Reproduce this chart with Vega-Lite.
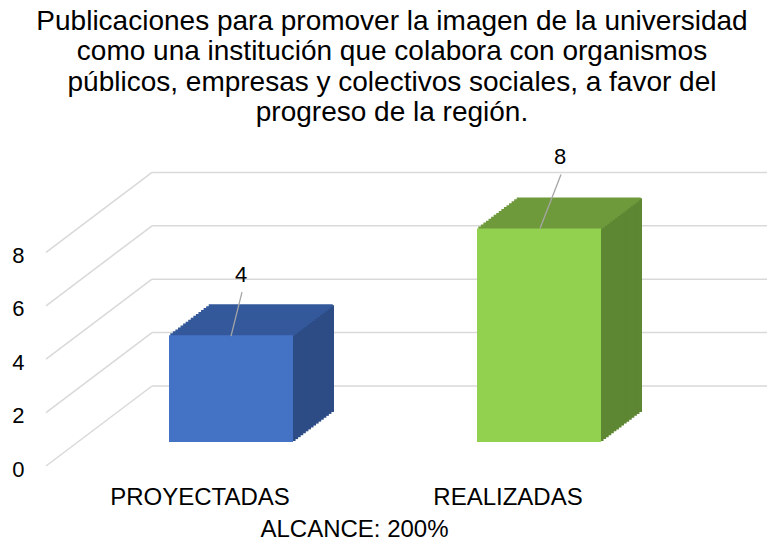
{
  "$schema": "https://vega.github.io/schema/vega-lite/v6.json",
  "autosize": "none",
  "width": 616,
  "height": 213.6,
  "padding": {"left": 46, "top": 252.4, "right": 105, "bottom": 78},
  "background": "#ffffff",
  "config": {"font": "Liberation Sans", "view": {"stroke": null}},
  "title": {
    "text": ["Publicaciones para promover la imagen de la universidad", "como una institución que colabora con organismos", "públicos, empresas y colectivos sociales, a favor del", "progreso de la región."],
    "fontSize": 28,
    "fontWeight": "normal",
    "color": "#000000",
    "lineHeight": 30.5,
    "anchor": "middle",
    "frame": "group",
    "dx": 38,
    "offset": 19
  },
  "datasets": {
    "barras": [
      {"categoria": "PROYECTADAS", "valor": 4},
      {"categoria": "REALIZADAS", "valor": 8}
    ],
    "rejilla": [
      {"valor": 0}, {"valor": 2}, {"valor": 4}, {"valor": 6}, {"valor": 8}
    ]
  },
  "data": {"name": "barras"},
  "encoding": {
    "x": {
      "field": "categoria",
      "type": "nominal",
      "scale": {"paddingInner": 0, "paddingOuter": 0},
      "axis": {
        "title": "ALCANCE: 200%",
        "titleFontSize": 24,
        "titleFontWeight": "normal",
        "titleColor": "#000000",
        "titlePadding": 8,
        "labelFontSize": 24,
        "labelColor": "#000000",
        "labelAngle": 0,
        "labelPadding": 19,
        "ticks": false,
        "tickSize": 0,
        "domain": false,
        "grid": false
      }
    },
    "y": {
      "field": "valor",
      "type": "quantitative",
      "scale": {"domain": [0, 8], "nice": false},
      "axis": {
        "title": null,
        "values": [0, 2, 4, 6, 8],
        "labelFontSize": 22,
        "labelColor": "#000000",
        "labelPadding": 22,
        "labelOffset": 3,
        "ticks": false,
        "tickSize": 0,
        "domain": false,
        "grid": false
      }
    }
  },
  "layer": [
    {
      "data": {"name": "rejilla"},
      "mark": {"type": "rule", "color": "#d9d9d9", "strokeWidth": 1.5, "x2Offset": 106, "y2Offset": -80},
      "encoding": {
        "x": {"datum": "PROYECTADAS", "type": "nominal", "bandPosition": 0},
        "x2": {"datum": "PROYECTADAS", "bandPosition": 0},
        "y2": {"field": "valor"}
      }
    },
    {
      "data": {"name": "rejilla"},
      "mark": {"type": "rule", "color": "#d9d9d9", "strokeWidth": 1.5, "xOffset": 106, "x2Offset": 106, "yOffset": -80},
      "encoding": {
        "x": {"datum": "PROYECTADAS", "type": "nominal", "bandPosition": 0},
        "x2": {"datum": "REALIZADAS", "bandPosition": 1}
      }
    },
    {
      "encoding": {
        "color": {"condition": {"test": "datum.categoria === 'PROYECTADAS'", "value": "#2d4c85"}, "value": "#5e8733"}
      },
      "layer": [
        {"mark": {"type": "bar", "width": 4.06, "xOffset": 93.53, "yOffset": -24.97}},
        {"mark": {"type": "bar", "width": 4.06, "xOffset": 96.09, "yOffset": -26.91}},
        {"mark": {"type": "bar", "width": 4.06, "xOffset": 98.66, "yOffset": -28.84}},
        {"mark": {"type": "bar", "width": 4.06, "xOffset": 101.22, "yOffset": -30.78}},
        {"mark": {"type": "bar", "width": 4.06, "xOffset": 103.78, "yOffset": -32.72}},
        {"mark": {"type": "bar", "width": 4.06, "xOffset": 106.34, "yOffset": -34.66}},
        {"mark": {"type": "bar", "width": 4.06, "xOffset": 108.91, "yOffset": -36.59}},
        {"mark": {"type": "bar", "width": 4.06, "xOffset": 111.47, "yOffset": -38.53}},
        {"mark": {"type": "bar", "width": 4.06, "xOffset": 114.03, "yOffset": -40.47}},
        {"mark": {"type": "bar", "width": 4.06, "xOffset": 116.59, "yOffset": -42.41}},
        {"mark": {"type": "bar", "width": 4.06, "xOffset": 119.16, "yOffset": -44.34}},
        {"mark": {"type": "bar", "width": 4.06, "xOffset": 121.72, "yOffset": -46.28}},
        {"mark": {"type": "bar", "width": 4.06, "xOffset": 124.28, "yOffset": -48.22}},
        {"mark": {"type": "bar", "width": 4.06, "xOffset": 126.84, "yOffset": -50.16}},
        {"mark": {"type": "bar", "width": 4.06, "xOffset": 129.41, "yOffset": -52.09}},
        {"mark": {"type": "bar", "width": 4.06, "xOffset": 131.97, "yOffset": -54.03}}
      ]
    },
    {
      "encoding": {
        "y2": {"field": "valor"},
        "color": {"condition": {"test": "datum.categoria === 'PROYECTADAS'", "value": "#34599b"}, "value": "#6f9a3c"}
      },
      "layer": [
        {"mark": {"type": "bar", "width": 124, "xOffset": 32.28, "yOffset": -22.8, "y2Offset": -25.94}},
        {"mark": {"type": "bar", "width": 124, "xOffset": 34.84, "yOffset": -24.74, "y2Offset": -27.88}},
        {"mark": {"type": "bar", "width": 124, "xOffset": 37.41, "yOffset": -26.68, "y2Offset": -29.81}},
        {"mark": {"type": "bar", "width": 124, "xOffset": 39.97, "yOffset": -28.61, "y2Offset": -31.75}},
        {"mark": {"type": "bar", "width": 124, "xOffset": 42.53, "yOffset": -30.55, "y2Offset": -33.69}},
        {"mark": {"type": "bar", "width": 124, "xOffset": 45.09, "yOffset": -32.49, "y2Offset": -35.63}},
        {"mark": {"type": "bar", "width": 124, "xOffset": 47.66, "yOffset": -34.43, "y2Offset": -37.56}},
        {"mark": {"type": "bar", "width": 124, "xOffset": 50.22, "yOffset": -36.36, "y2Offset": -39.5}},
        {"mark": {"type": "bar", "width": 124, "xOffset": 52.78, "yOffset": -38.3, "y2Offset": -41.44}},
        {"mark": {"type": "bar", "width": 124, "xOffset": 55.34, "yOffset": -40.24, "y2Offset": -43.38}},
        {"mark": {"type": "bar", "width": 124, "xOffset": 57.91, "yOffset": -42.18, "y2Offset": -45.31}},
        {"mark": {"type": "bar", "width": 124, "xOffset": 60.47, "yOffset": -44.11, "y2Offset": -47.25}},
        {"mark": {"type": "bar", "width": 124, "xOffset": 63.03, "yOffset": -46.05, "y2Offset": -49.19}},
        {"mark": {"type": "bar", "width": 124, "xOffset": 65.59, "yOffset": -47.99, "y2Offset": -51.13}},
        {"mark": {"type": "bar", "width": 124, "xOffset": 68.16, "yOffset": -49.93, "y2Offset": -53.06}},
        {"mark": {"type": "bar", "width": 124, "xOffset": 70.72, "yOffset": -51.86, "y2Offset": -55.0}}
      ]
    },
    {
      "mark": {"type": "bar", "width": 124, "xOffset": 31, "yOffset": -24},
      "encoding": {
        "color": {"condition": {"test": "datum.categoria === 'PROYECTADAS'", "value": "#4472c4"}, "value": "#92d050"}
      }
    },
    {
      "transform": [{"filter": "datum.categoria === 'PROYECTADAS'"}],
      "mark": {"type": "rule", "color": "#a6a6a6", "strokeWidth": 1.3, "xOffset": 31, "x2Offset": 42, "yOffset": -23, "y2Offset": -67},
      "encoding": {"x2": {"field": "categoria"}, "y2": {"field": "valor"}}
    },
    {
      "transform": [{"filter": "datum.categoria === 'REALIZADAS'"}],
      "mark": {"type": "rule", "color": "#a6a6a6", "strokeWidth": 1.3, "xOffset": 32, "x2Offset": 53, "yOffset": -24, "y2Offset": -78},
      "encoding": {"x2": {"field": "categoria"}, "y2": {"field": "valor"}}
    },
    {
      "transform": [{"filter": "datum.categoria === 'PROYECTADAS'"}],
      "mark": {"type": "text", "fontSize": 22, "color": "#000000", "align": "center", "baseline": "middle", "dx": 41, "dy": -84},
      "encoding": {"text": {"field": "valor", "type": "quantitative"}}
    },
    {
      "transform": [{"filter": "datum.categoria === 'REALIZADAS'"}],
      "mark": {"type": "text", "fontSize": 22, "color": "#000000", "align": "center", "baseline": "middle", "dx": 52, "dy": -95},
      "encoding": {"text": {"field": "valor", "type": "quantitative"}}
    }
  ]
}
